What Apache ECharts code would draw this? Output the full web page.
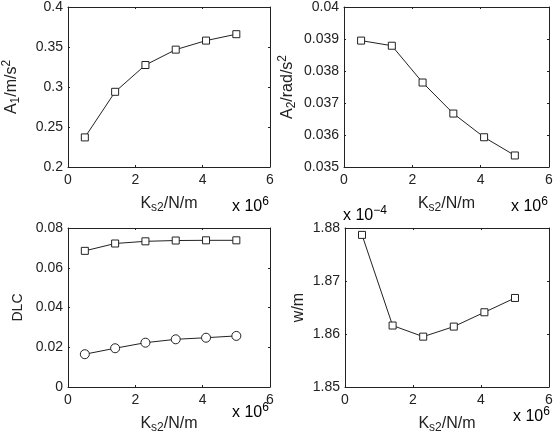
<!DOCTYPE html>
<html><head><meta charset="utf-8">
<script src="https://cdn.jsdelivr.net/npm/echarts@6/dist/echarts.min.js"></script>
<style>html,body{margin:0;padding:0;background:#fff}#c{width:553px;height:433px}</style>
</head><body><div id="c"></div>
<script>
const ks2 = [0.5, 1.4, 2.3, 3.2, 4.1, 5.0];           // x 10^6 N/m
const A1 = [0.237, 0.294, 0.3275, 0.3467, 0.358, 0.366];
const A2 = [0.03895, 0.03879, 0.03764, 0.03667, 0.03593, 0.03536];
const DLC_sq = [0.0685, 0.0722, 0.0733, 0.0737, 0.0738, 0.0738];
const DLC_ci = [0.0165, 0.0195, 0.0223, 0.0240, 0.0248, 0.0257];
const W = [1.8787, 1.8616, 1.8595, 1.8614, 1.8641, 1.8668];  // x 10^-4
const xTicks = [0, 2, 4, 6];

const FONT = 'Liberation Sans, Arial, Helvetica, sans-serif';
const C = '#222';
const grids = [
  {left: 68, top: 7, width: 202, height: 160},
  {left: 344, top: 7, width: 205, height: 160},
  {left: 68, top: 228, width: 202, height: 159},
  {left: 345, top: 228, width: 204, height: 159}
].map(g => Object.assign(g, {containLabel: false, outerBoundsMode: 'none'}));
const rich = {
  n: {fontSize: 16, fontFamily: FONT, color: C},
  d: {fontSize: 14, fontFamily: FONT, color: C},
  sub: {fontSize: 12, fontFamily: FONT, color: C, verticalAlign: 'bottom', padding: [9, 0, 0, 0]},
  sup: {fontSize: 12, fontFamily: FONT, color: C, verticalAlign: 'top', padding: [0, 0, 9, 0]}
};
function xAxis(i) {
  return {
    gridIndex: i, type: 'value', min: 0, max: 6, interval: 2,
    name: '{n|K}{sub|s2}{n|/N/m}', nameLocation: 'middle', nameGap: 26,
    nameTextStyle: {rich: rich},
    axisLine: {show: true, onZero: false, lineStyle: {color: C, width: 1}},
    axisTick: {show: true, inside: true, length: 2, lineStyle: {color: C}},
    axisLabel: {fontSize: 14, fontFamily: FONT, color: C, margin: 6},
    splitLine: {show: false}
  };
}
function xAxisTop(i) {
  return {gridIndex: i, type: 'value', min: 0, max: 6, interval: 2, position: 'top',
    axisLine: {show: true, onZero: false, lineStyle: {color: C, width: 1}},
    axisTick: {show: true, inside: true, length: 2, lineStyle: {color: C}},
    axisLabel: {show: false}, splitLine: {show: false}};
}
function yAxis(i, min, max, interval, name, gap, dec) {
  return {
    gridIndex: i, type: 'value', min: min, max: max, interval: interval,
    name: name, nameLocation: 'middle', nameGap: gap, nameRotate: 90,
    nameTextStyle: {rich: rich},
    axisLine: {show: true, onZero: false, lineStyle: {color: C, width: 1}},
    axisTick: {show: true, inside: true, length: 2, lineStyle: {color: C}},
    axisLabel: {fontSize: 14, fontFamily: FONT, color: C, margin: 5,
      formatter: v => { const s = +v.toFixed(dec); return String(s); }},
    splitLine: {show: false}
  };
}
function yAxisRight(i, min, max, interval) {
  return {gridIndex: i, type: 'value', min: min, max: max, interval: interval, position: 'right',
    axisLine: {show: true, onZero: false, lineStyle: {color: C, width: 1}},
    axisTick: {show: true, inside: true, length: 2, lineStyle: {color: C}},
    axisLabel: {show: false}, splitLine: {show: false}};
}
function series(xi, yi, data, symbol, size) {
  return {
    type: 'line', xAxisIndex: xi, yAxisIndex: yi,
    data: ks2.map((x, k) => [x, data[k]]),
    symbol: symbol, symbolSize: size, showAllSymbol: true,
    lineStyle: {color: C, width: 1},
    itemStyle: {color: '#fff', borderColor: C, borderWidth: 1},
    emphasis: {disabled: true}, animation: false
  };
}
const option = {
  backgroundColor: '#fff',
  animation: false,
  grid: grids,
  xAxis: [xAxis(0), xAxis(1), xAxis(2), xAxis(3), xAxisTop(0), xAxisTop(1), xAxisTop(2), xAxisTop(3)],
  yAxis: [
    yAxis(0, 0.2, 0.4, 0.05, '{n|A}{sub|1}{n|/m/s}{sup|2}', 46, 2),
    yAxis(1, 0.035, 0.04, 0.001, '{n|A}{sub|2}{n|/rad/s}{sup|2}', 46, 3),
    yAxis(2, 0, 0.08, 0.02, '{d|DLC}', 43, 2),
    yAxis(3, 1.85, 1.88, 0.01, '{n|w/m}', 38, 2),
    yAxisRight(0, 0.2, 0.4, 0.05), yAxisRight(1, 0.035, 0.04, 0.001),
    yAxisRight(2, 0, 0.08, 0.02), yAxisRight(3, 1.85, 1.88, 0.01)
  ],
  series: [
    series(0, 0, A1, 'rect', 7),
    series(1, 1, A2, 'rect', 7),
    series(2, 2, DLC_sq, 'rect', 7),
    series(2, 2, DLC_ci, 'circle', 9),
    series(3, 3, W, 'rect', 7)
  ],
  graphic: [
    [232, 196], [511, 196], [232, 402], [513, 406]
  ].map(p => ({type: 'text', left: p[0], top: p[1], silent: true,
      style: {text: '{n|x 10}{sup|6}', rich: rich}}))
    .concat([{type: 'text', left: 343, top: 205, silent: true,
      style: {text: '{n|x 10}{sup|−4}', rich: rich}}])
};
echarts.init(document.getElementById('c'), null, {renderer: 'canvas'}).setOption(option);
</script></body></html>
